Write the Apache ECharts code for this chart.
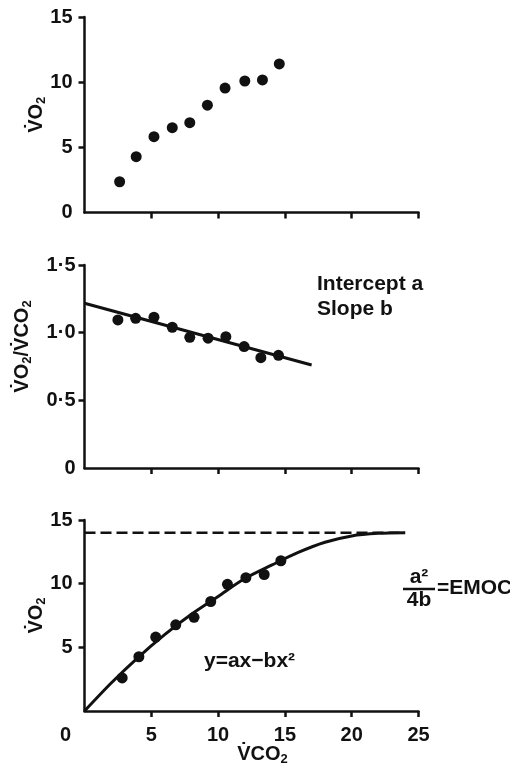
<!DOCTYPE html>
<html>
<head>
<meta charset="utf-8">
<script src="https://cdn.jsdelivr.net/npm/echarts@6/dist/echarts.min.js"></script>
<style>
html, body { margin: 0; padding: 0; background: #fff; }
#chart { width: 510px; height: 767px; }
</style>
</head>
<body>
<div id="chart"></div>
<script>
// panel 1: VO2 against VCO2
const co2Top = [2.63, 3.87, 5.20, 6.57, 7.88, 9.20, 10.52, 12.0, 13.32, 14.58]
const o2Top = [2.36, 4.28, 5.82, 6.51, 6.89, 8.23, 9.55, 10.09, 10.17, 11.4]

// panel 2: VO2/VCO2 ratio and its straight fit
const co2Mid = [2.50, 3.83, 5.20, 6.57, 7.88, 9.25, 10.58, 11.95, 13.2, 14.52]
const ratioMid = [1.094, 1.106, 1.114, 1.04, 0.966, 0.959, 0.970, 0.897, 0.815, 0.833]
const fitX = [0, 17]
const fitY = [1.217, 0.761]

// panel 3: same points with the curve y = ax - bx^2
const co2Bot = [2.82, 4.07, 5.33, 6.83, 8.2, 9.45, 10.7, 12.08, 13.45, 14.7]
const o2Bot = [2.6, 4.26, 5.81, 6.77, 7.36, 8.6, 9.95, 10.47, 10.72, 11.8]
const curveX = [0, 2, 4, 6, 8, 10, 12, 14, 16, 18, 20, 22, 24]
const curveY = [0, 2.2, 4.2, 6.0, 7.6, 9.0, 10.4, 11.45, 12.45, 13.25, 13.75, 13.95, 14.0]
const emocX = [0, 24]
const emocY = [14, 14]

// tick labels
const o2Ticks = [0, 5, 10, 15]
const ratioTicks = ['0', '0·5', '1·0', '1·5']
const co2Ticks = [0, 5, 10, 15, 20, 25]

const zip = (xs, ys) => xs.map((x, i) => [x, ys[i]])

const INK = '#111'
const FONT = 'Liberation Sans'
const lineW = 2.5
const TICK_SIZE = 20

const nameRich = {
  b: { fontFamily: FONT, fontWeight: 'bold', fontSize: 20, color: INK },
  s: { fontFamily: FONT, fontWeight: 'bold', fontSize: 13, color: INK, padding: [10, 0, 0, 0] }
}

const xAxisBase = (idx, showLabels) => ({
  type: 'value',
  gridIndex: idx,
  min: 0,
  max: 25,
  interval: 5,
  splitLine: { show: false },
  axisLine: { onZero: false, lineStyle: { color: INK, width: lineW } },
  axisTick: { length: 6, lineStyle: { color: INK, width: lineW }, customValues: [5, 10, 15, 20, 25] },
  axisLabel: {
    show: showLabels,
    margin: 14,
    color: INK,
    fontFamily: FONT,
    fontWeight: 'bold',
    fontSize: TICK_SIZE,
    formatter: v => (v === 0 ? '{z|' + co2Ticks[0] + '}' : String(co2Ticks[co2Ticks.indexOf(v)])),
    rich: { z: { fontFamily: FONT, fontWeight: 'bold', fontSize: TICK_SIZE, color: INK, padding: [0, 38, 0, 0] } }
  }
})

const yAxisBase = (idx, max, interval) => ({
  type: 'value',
  gridIndex: idx,
  min: 0,
  max: max,
  interval: interval,
  splitLine: { show: false },
  axisLine: { show: true, onZero: false, lineStyle: { color: INK, width: lineW } },
  axisTick: { show: true, length: 6, lineStyle: { color: INK, width: lineW } },
  axisLabel: { color: INK, fontFamily: FONT, fontWeight: 'bold', fontSize: TICK_SIZE, margin: 12 },
  nameLocation: 'middle',
  nameRotate: 90,
  nameMoveOverlap: false,
  nameTextStyle: { rich: nameRich }
})

const y0 = yAxisBase(0, 15, 5)
y0.name = '{b|V\u0307O}{s|2}'
y0.nameGap = 37
y0.axisTick.customValues = [5, 10, 15]
y0.axisLabel.formatter = v => String(o2Ticks[o2Ticks.indexOf(v)])

const y1 = yAxisBase(1, 1.5, 0.5)
y1.name = '{b|V\u0307O}{s|2}{b|/V\u0307CO}{s|2}'
y1.nameGap = 51
y1.nameTextStyle = { rich: nameRich, padding: [0, 0, 0, 40] }
y1.axisTick.customValues = [0.5, 1, 1.5]
y1.axisLabel.margin = 9
y1.axisLabel.formatter = v => ratioTicks[Math.round(v * 2)]

const y2 = yAxisBase(2, 15, 5)
y2.name = '{b|V\u0307O}{s|2}'
y2.nameGap = 37
y2.axisTick.customValues = [5, 10, 15]
y2.axisLabel.formatter = v => (v === 0 ? '' : String(o2Ticks[o2Ticks.indexOf(v)]))

const x2 = xAxisBase(2, true)
x2.name = '{b|V\u0307CO}{s|2}'
x2.nameLocation = 'middle'
x2.nameGap = 32
x2.nameMoveOverlap = false
x2.nameTextStyle = { rich: nameRich, padding: [0, 0, 0, 22] }

const dot = { symbol: 'circle', symbolSize: 11, itemStyle: { color: INK, opacity: 1 } }

const annot = 'bold 21px "Liberation Sans"'

const option = {
  backgroundColor: '#fff',
  animation: false,
  grid: [
    { left: 84.5, top: 17, width: 334, height: 195.5 },
    { left: 84.5, top: 265, width: 334, height: 203 },
    { left: 84.5, top: 520, width: 334, height: 193.3 }
  ],
  xAxis: [xAxisBase(0, false), xAxisBase(1, false), x2],
  yAxis: [y0, y1, y2],
  series: [
    Object.assign({ type: 'scatter', xAxisIndex: 0, yAxisIndex: 0, data: zip(co2Top, o2Top) }, dot),
    Object.assign({ type: 'scatter', xAxisIndex: 1, yAxisIndex: 1, data: zip(co2Mid, ratioMid), z: 3 }, dot),
    {
      type: 'line', xAxisIndex: 1, yAxisIndex: 1, data: zip(fitX, fitY),
      showSymbol: false, lineStyle: { color: INK, width: 3 }, z: 2
    },
    Object.assign({ type: 'scatter', xAxisIndex: 2, yAxisIndex: 2, data: zip(co2Bot, o2Bot), z: 3 }, dot),
    {
      type: 'line', xAxisIndex: 2, yAxisIndex: 2, data: zip(curveX, curveY),
      smooth: 0.3, showSymbol: false,
      lineStyle: { color: INK, width: 3 }, z: 2
    },
    {
      type: 'line', xAxisIndex: 2, yAxisIndex: 2, data: zip(emocX, emocY),
      showSymbol: false, lineStyle: { color: INK, width: 2.5, type: [11, 5] }, z: 1
    }
  ],
  graphic: [
    {
      type: 'text', left: 317, top: 272,
      style: { text: 'Intercept a\nSlope b', fill: INK, font: annot, lineHeight: 25 }
    },
    {
      type: 'text', left: 204, top: 651,
      style: { text: 'y=ax\u2212bx²', fill: INK, font: annot }
    },
    {
      type: 'text', x: 419, y: 577,
      style: { text: 'a²', fill: INK, font: annot, align: 'center', verticalAlign: 'middle' }
    },
    {
      type: 'line', shape: { x1: 403, y1: 589, x2: 435, y2: 589 },
      style: { stroke: INK, lineWidth: 2.5 }
    },
    {
      type: 'text', x: 419, y: 600,
      style: { text: '4b', fill: INK, font: annot, align: 'center', verticalAlign: 'middle' }
    },
    {
      type: 'text', x: 437, y: 588,
      style: { text: '=EMOC', fill: INK, font: annot, align: 'left', verticalAlign: 'middle' }
    }
  ]
}

const myChart = echarts.init(document.getElementById('chart'))
myChart.setOption(option)
</script>
</body>
</html>
